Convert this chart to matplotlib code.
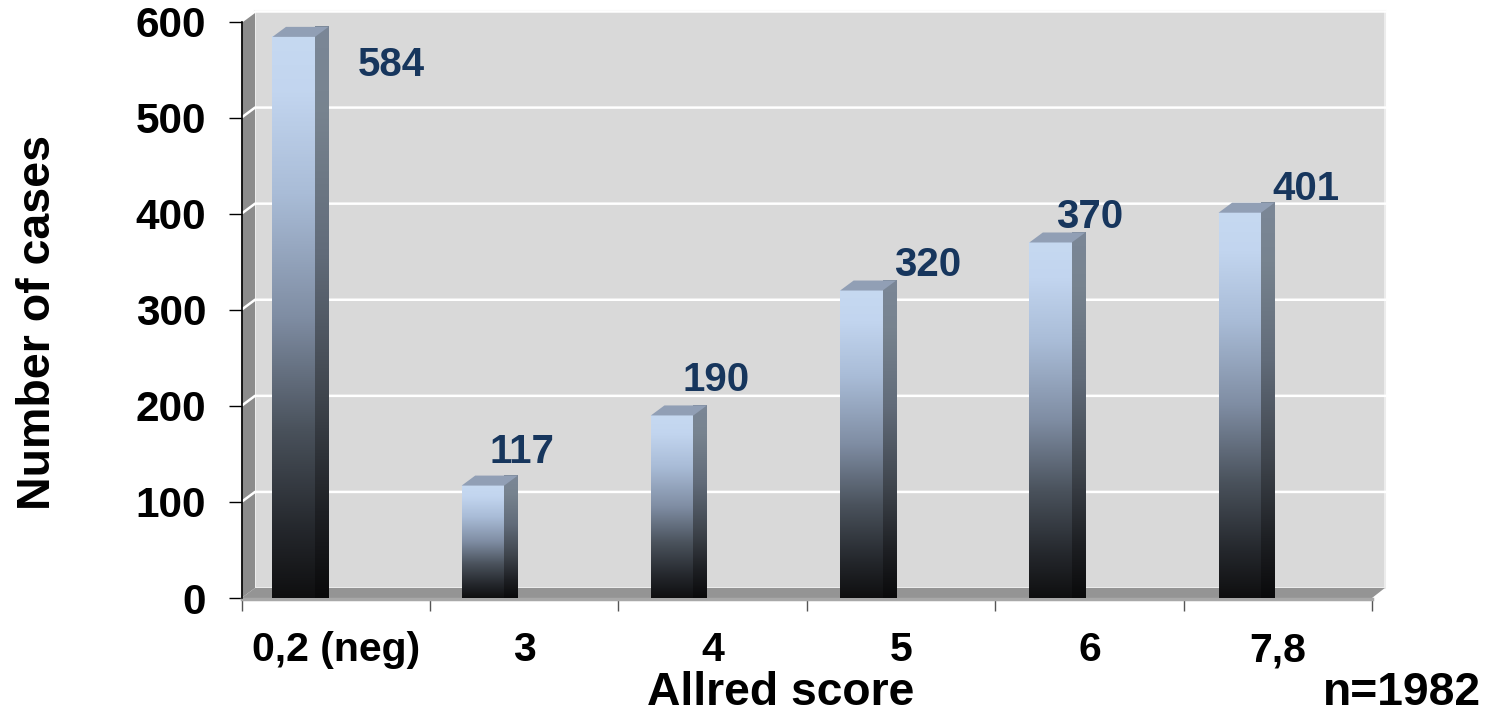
import matplotlib
matplotlib.use('Agg')
import matplotlib.pyplot as plt
import numpy as np
from matplotlib.colors import LinearSegmentedColormap
from matplotlib.patches import Polygon

categories = ['0,2 (neg)', '3', '4', '5', '6', '7,8']
cases = [584, 117, 190, 320, 370, 401]
y_ticks = [0, 100, 200, 300, 400, 500, 600]

plt.rcParams['font.family'] = ['Liberation Sans', 'DejaVu Sans']
plt.rcParams['font.weight'] = 'bold'

W, H = 1491, 713
PX_X = 1 / 188.5   # one pixel in category units
PX_Y = 100 / 96.1   # one pixel in cases
DX = 13.5 * PX_X   # depth of the 3d box
DY = 10 * PX_Y
BAR_W = 42.5 * PX_X
BAR_OFF = 31 * PX_X
BAR_STEP = 189.3 * PX_X

front = LinearSegmentedColormap.from_list('front', [
    (0.0, '#0f0f10'), (0.12, '#24272c'), (0.3, '#4a525c'),
    (0.5, '#7f8da3'), (0.72, '#a9bcd7'), (0.9, '#c2d5ef'), (1.0, '#c6d9f1')])
side = LinearSegmentedColormap.from_list('side', [
    (0.0, '#0a0a0b'), (0.15, '#1e2024'), (0.35, '#3f454d'),
    (0.6, '#616b79'), (0.85, '#77838f'), (1.0, '#7b8797')])
ramp = np.linspace(1, 0, 256).reshape(-1, 1)

fig = plt.figure(figsize=(W / 100, H / 100), dpi=100)
ax = fig.add_axes([241.5 / W, (H - 598) / H, (1372 - 241.5) / W, (598 - 21.5) / H])
ax.patch.set_visible(False)

# back wall, left wall and floor
ax.add_patch(Polygon([(DX, DY), (6 + DX * 0.95, DY), (6 + DX * 0.95, 600 + DY + 1), (DX, 600 + DY + 1)],
                     fc='#d9d9d9', ec='#ececec', lw=1.5, clip_on=False, zorder=1))
ax.add_patch(Polygon([(0, 0), (DX, DY), (DX, 600 + DY + 1), (0, 600)],
                     fc='#8c8c8c', ec='none', clip_on=False, zorder=1.1))
ax.add_patch(Polygon([(0, 0), (DX, DY), (6 + DX * 0.95, DY), (6, 0)],
                     fc='#949494', ec='none', clip_on=False, zorder=1.5))
ax.plot([0, 6], [-1.2, -1.2], color='#a8a8a8', lw=2.5, clip_on=False, zorder=1.6)

for v in y_ticks[1:]:
    ax.plot([0, DX, 6 + DX * 0.95], [v, v + DY, v + DY], color='#ffffff', lw=1.8,
            clip_on=False, zorder=1.4)

# bars: gradient front, gradient side, flat top
for i, v in enumerate(cases):
    x0 = i * BAR_STEP + BAR_OFF
    x1 = x0 + BAR_W
    ax.imshow(ramp, cmap=front, extent=(x0, x1, 0, v), aspect='auto', vmin=0, vmax=1,
              zorder=3, clip_on=False)
    im = ax.imshow(ramp, cmap=side, extent=(x1, x1 + DX, 0, v + DY), aspect='auto', vmin=0, vmax=1,
                   zorder=3, clip_on=False)
    face = Polygon([(x1, 0), (x1 + DX, DY), (x1 + DX, v + DY), (x1, v)],
                   transform=ax.transData, fc='none', ec='none')
    ax.add_patch(face)
    im.set_clip_path(face)
    ax.add_patch(Polygon([(x0, v), (x0 + DX, v + DY), (x1 + DX, v + DY), (x1, v)],
                         fc='#919fb5', ec='none', zorder=3, clip_on=False))

ax.set_xlim(0, 6)
ax.set_ylim(0, 600)

# value labels sit at hand-placed pixel offsets from the bar tops
label_dx = [119, 60, 65, 88, 60, 87]
label_dy = [-28.5, 33.5, 35.5, 25.5, 25, 24]
for i, v in enumerate(cases):
    ax.text(i * BAR_STEP + BAR_OFF + label_dx[i] * PX_X, v + label_dy[i] * PX_Y, str(v),
            color='#17365d', fontsize=29, ha='center', va='center', zorder=5, clip_on=False)

for s in ['top', 'right', 'bottom']:
    ax.spines[s].set_visible(False)
ax.spines['left'].set_color('black')
ax.spines['left'].set_linewidth(1.2)

ax.set_yticks(y_ticks)
ax.tick_params(axis='y', length=9.5, width=1.0, labelsize=30.5, pad=16)
ax.set_xticks(range(7))
ax.set_xticklabels([])
ax.tick_params(axis='x', which='major', length=9.5, width=1.0, color='#555555')
ax.set_xticks(np.arange(6) + 0.5, minor=True)
ax.set_xticklabels(categories, minor=True, fontsize=29.5)
ax.tick_params(axis='x', which='minor', length=0, pad=24)

fig.text(781 / W, 1 - 693 / H, 'Allred score', fontsize=33.3, ha='center', va='center')
fig.text(1402 / W, 1 - 693 / H, 'n=1982', fontsize=33.3, ha='center', va='center')
fig.text(38 / W, 1 - 322 / H, 'Number of cases', fontsize=33.5, rotation=90, ha='center', va='center')

fig.savefig('out.png', dpi=100)
